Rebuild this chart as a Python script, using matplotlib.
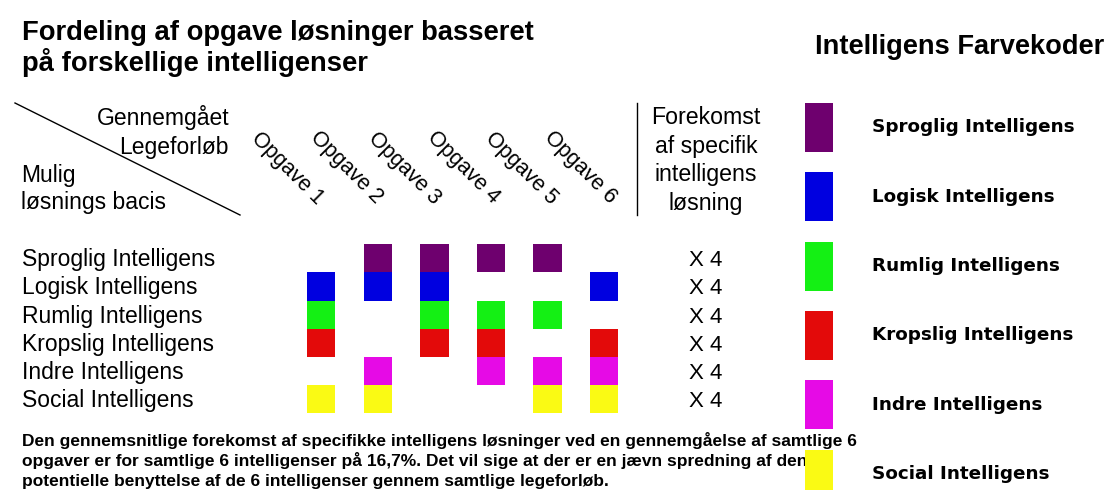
import matplotlib
matplotlib.use("Agg")
import matplotlib.pyplot as plt

# ---- data ----
intelligences = ["Sproglig Intelligens", "Logisk Intelligens", "Rumlig Intelligens",
                 "Kropslig Intelligens", "Indre Intelligens", "Social Intelligens"]
tasks = ["Opgave 1", "Opgave 2", "Opgave 3", "Opgave 4", "Opgave 5", "Opgave 6"]
colors = ["#6E006E", "#0000E0", "#14F014", "#E30A0A", "#E60AE6", "#FAFA14"]
# rows = intelligences, columns = tasks (1 = used)
usage = [
    [0, 1, 1, 1, 1, 0],
    [1, 1, 1, 0, 0, 1],
    [1, 0, 1, 1, 1, 0],
    [1, 0, 1, 1, 0, 1],
    [0, 1, 0, 1, 1, 1],
    [1, 1, 0, 0, 1, 1],
]
occurrence = [sum(r) for r in usage]

title_left = ["Fordeling af opgave løsninger basseret", "på forskellige intelligenser"]
title_right = "Intelligens Farvekoder"
header_top = ["Gennemgået", "Legeforløb"]
header_bottom = ["Mulig", "løsnings bacis"]
occ_header = ["Forekomst", "af specifik", "intelligens", "løsning"]
footnote = ["Den gennemsnitlige forekomst af specifikke intelligens løsninger ved en gennemgåelse af samtlige 6",
            "opgaver er for samtlige 6 intelligenser på 16,7%. Det vil sige at der er en jævn spredning af den",
            "potentielle benyttelse af de 6 intelligenser gennem samtlige legeforløb."]

W, H = 1111, 490
fig = plt.figure(figsize=(W / 100, H / 100), dpi=100)
fig.patch.set_facecolor("white")

SANS = ["Liberation Sans", "DejaVu Sans"]

# overlay axes in pixel units for text and rules
ax = fig.add_axes([0, 0, 1, 1])
ax.set_xlim(0, W)
ax.set_ylim(H, 0)
ax.axis("off")

# grid axes (cell units)
col_c0, col_dx = 321.2, 56.6
row_top, row_dy = 244.3, 28.17
gx0 = col_c0 - col_dx / 2
gw = col_dx * len(tasks)
gh = row_dy * len(intelligences)
gax = fig.add_axes([gx0 / W, 1 - (row_top + gh) / H, gw / W, gh / H])
gax.set_xlim(-0.5, len(tasks) - 0.5)
gax.set_ylim(len(intelligences) - 0.5, -0.5)
gax.axis("off")
for r, row in enumerate(usage):
    xs = [c for c, v in enumerate(row) if v]
    gax.bar(xs, [1.0] * len(xs), bottom=r - 0.5, width=28.5 / col_dx,
            color=colors[r], linewidth=0)

# legend axes (slot units)
leg_top, leg_dy, leg_h = 102.7, 69.4, 49.0
lh = leg_dy * len(colors)
lax = fig.add_axes([805 / W, 1 - (leg_top + lh) / H, 28 / W, lh / H])
lax.set_xlim(0, 1)
lax.set_ylim(len(colors), 0)
lax.axis("off")
lax.bar([0.5] * len(colors), [leg_h / leg_dy] * len(colors),
        bottom=list(range(len(colors))), width=1.0, color=colors, linewidth=0, zorder=5)

# titles
ax.text(22, 40, title_left[0], fontsize=19.7, fontweight="bold", family=SANS, va="baseline")
ax.text(22, 71, title_left[1], fontsize=19.7, fontweight="bold", family=SANS, va="baseline")
ax.text(815, 54, title_right, fontsize=19.6, fontweight="bold", family=SANS, va="baseline")

# header corner
ax.plot([15, 240], [103, 215], color="black", lw=1.0)
ax.text(229, 125, header_top[0], fontsize=16.5, family=SANS, ha="right", va="baseline")
ax.text(229, 154, header_top[1], fontsize=16.5, family=SANS, ha="right", va="baseline")
ax.text(21, 182, header_bottom[0], fontsize=16.5, family=SANS, ha="left", va="baseline")
ax.text(21, 209, header_bottom[1], fontsize=16.5, family=SANS, ha="left", va="baseline")

# rotated task labels
lab_c0, lab_dx = 287.5, 58.5
for i, t in enumerate(tasks):
    ax.text(lab_c0 + i * lab_dx, 168, t, fontsize=15.5, family=SANS,
            rotation=-45, ha="center", va="center", rotation_mode="anchor")

# vertical rule and occurrence header
ax.plot([637, 637], [103, 215], color="black", lw=1.0)
for k, line in enumerate(occ_header):
    ax.text(706, 124 + k * 28.5, line, fontsize=16.7, family=SANS, ha="center", va="baseline")

# row labels and occurrence values
for r, name in enumerate(intelligences):
    yc = row_top + (r + 0.5) * row_dy
    ax.text(22, yc + 7.8, name, fontsize=16.5, family=SANS, va="baseline")
    ax.text(706, yc + 7.8, f"X {occurrence[r]}", fontsize=16, family=SANS, ha="center", va="baseline")

# legend labels
for i, name in enumerate(intelligences):
    yc = leg_top + i * leg_dy + leg_h / 2
    ax.text(872, yc, name, fontsize=13.2, fontweight="bold", family=["DejaVu Sans"], va="center")

# footnote
for k, line in enumerate(footnote):
    ax.text(22, 446 + k * 20, line, fontsize=12.5, fontweight="bold", family=SANS, va="baseline", zorder=1)

fig.savefig("out.png", dpi=100, facecolor="white")
